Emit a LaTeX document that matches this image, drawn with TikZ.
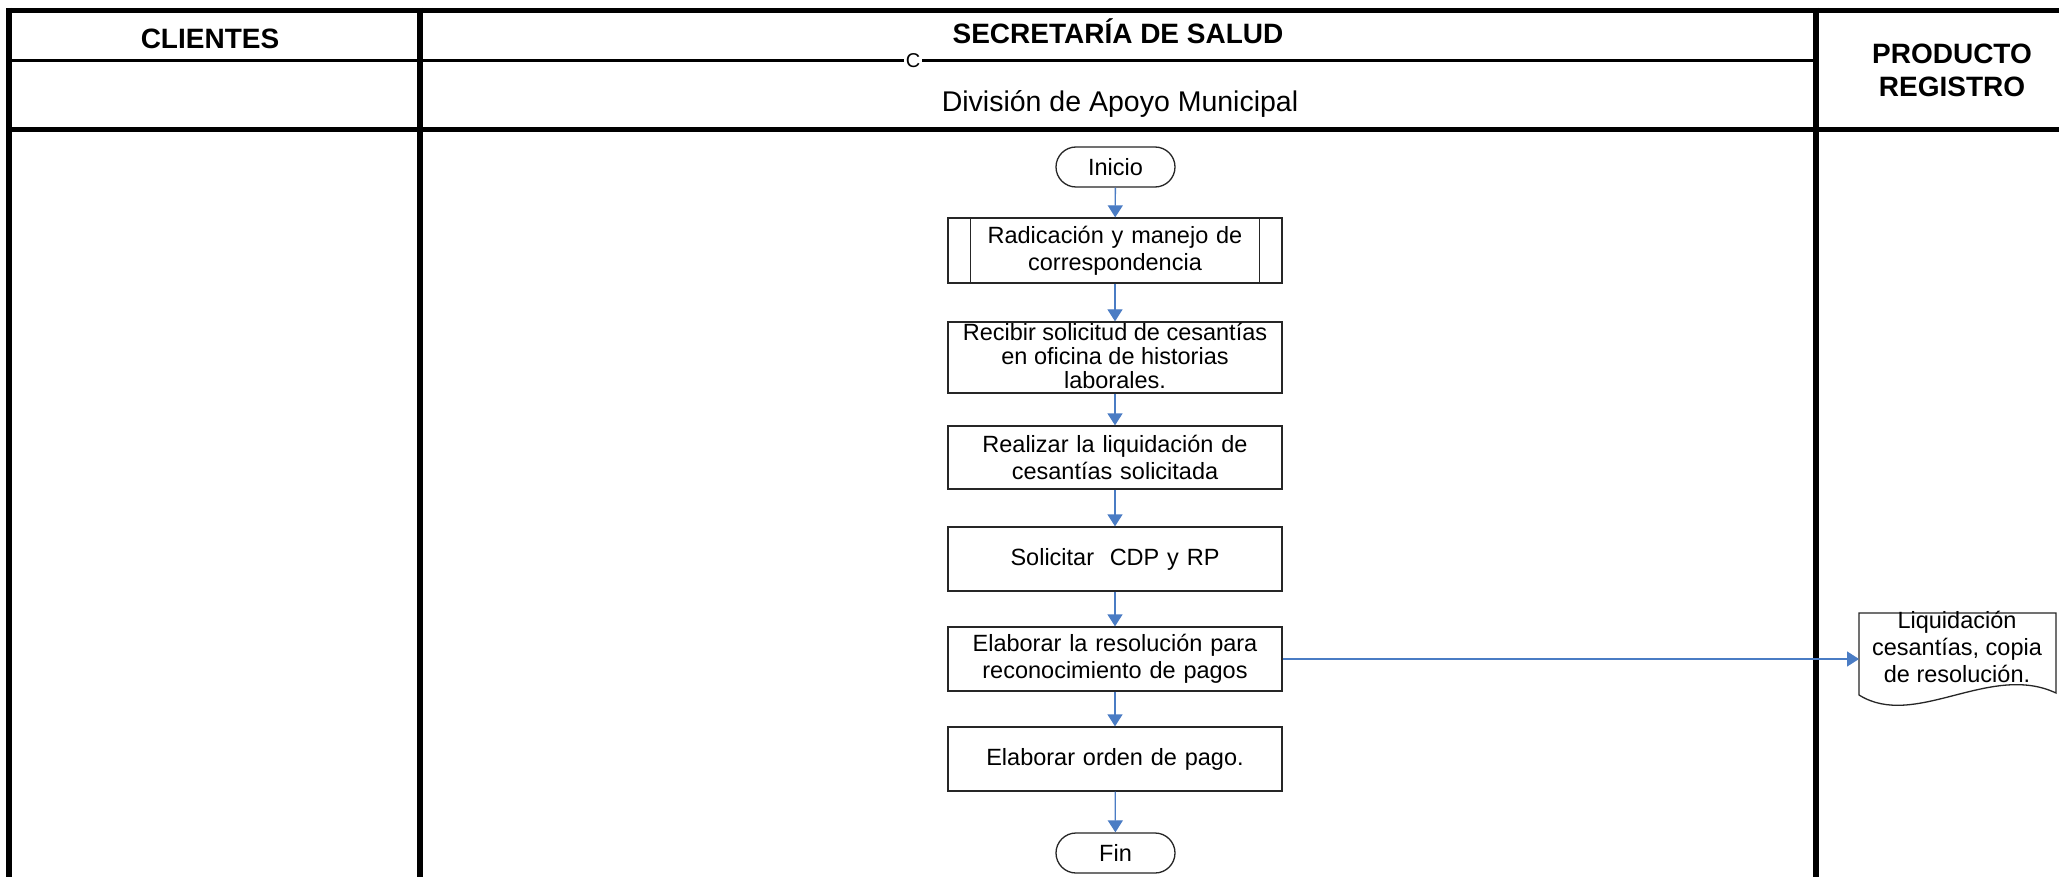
\documentclass[tikz,border=0pt]{standalone}
\usepackage{fontspec}
\setmainfont{Liberation Sans}
\usetikzlibrary{arrows.meta}
\definecolor{flowblue}{RGB}{74,124,196}
\newcommand\myBodyFont{\fontsize{23.5}{27}\selectfont}
\newcommand\myTightFont{\fontsize{23.5}{24}\selectfont}
\newcommand\myHeadFont{\fontsize{28}{33}\selectfont\bfseries}
\newcommand\mySubFont{\fontsize{28.5}{33}\selectfont}
\begin{document}
\begin{tikzpicture}[x=1pt,y=-1pt,
  laneline/.style={draw=black, line width=#1},
  procbox/.style={draw=black!85, line width=1.3pt, minimum width=334pt, text width=326pt,
                  align=center, inner sep=0pt, font=\myBodyFont},
  termbox/.style={draw=black!85, line width=1.3pt, rounded corners=20pt, minimum width=119pt,
                  minimum height=40pt, inner sep=0pt, font=\myBodyFont},
  flow/.style={draw=flowblue, line width=1.3pt, -{Triangle[length=12pt,width=15pt]}},
  hdr/.style={font=\myHeadFont, inner sep=0pt, anchor=base},
  sub/.style={font=\mySubFont, inner sep=0pt, anchor=base}]
\useasboundingbox (0,0) rectangle (2059,877);
\fill[white] (0,0) rectangle (2059,877);

% frame
\draw[laneline=5pt] (6,10.5) -- (2059,10.5);
\draw[laneline=3pt] (9,60.5) -- (1816,60.5);
\draw[laneline=5pt] (6,129.5) -- (2059,129.5);
\draw[laneline=6pt] (9,8) -- (9,877);
\draw[laneline=6pt] (420,8) -- (420,877);
\draw[laneline=6pt] (1816,8) -- (1816,877);

\node[fill=white, inner sep=1.5pt, font=\fontsize{20}{22}\selectfont] (cmark) at (913,60.5) {C};

% headers
\node[hdr] (cli) at (210,49) {CLIENTES};
\node[hdr] (sec) at (1118,44) {SECRETARÍA DE SALUD};
\node[sub] (div) at (1120,112) {División de Apoyo Municipal};
\node[hdr] (prod) at (1952,64) {PRODUCTO};
\node[hdr] (reg) at (1952,97) {REGISTRO};

% flow nodes
\node[termbox] (ini) at (1115.5,167) {Inicio};
\node[procbox, minimum height=65pt] (rad) at (1115,250.5) {Radicación y manejo de\\correspondencia};
\draw[draw=black!85, line width=1.3pt] ([xshift=23pt]rad.north west) -- ([xshift=23pt]rad.south west);
\draw[draw=black!85, line width=1.3pt] ([xshift=-23pt]rad.north east) -- ([xshift=-23pt]rad.south east);
\node[procbox, minimum height=71pt] (rec) at (1115,357.5) {};
\node[font=\myTightFont, align=center, inner sep=0pt] (rectxt) at (1115,355.5) {Recibir solicitud de cesantías\\en oficina de historias\\laborales.};
\node[procbox, minimum height=63pt] (rea) at (1115,457.5) {Realizar la liquidación de\\cesantías solicitada};
\node[procbox, minimum height=64pt] (sol) at (1115,559) {Solicitar~ CDP y RP};
\node[procbox, minimum height=64pt] (res) at (1115,659) {Elaborar la resolución para\\reconocimiento de pagos};
\node[procbox, minimum height=64pt] (ord) at (1115,759) {Elaborar orden de pago.};
\node[termbox] (fin) at (1115.5,853) {Fin};

% document shape
\draw[draw=black!85, line width=1.3pt, fill=white]
  (1859,613) -- (2056,613) -- (2056,693)
  .. controls (1990,662) and (1915,730) .. (1859,695) -- cycle;
\node[font=\myBodyFont, align=center, inner sep=0pt] (doc) at (1957,647) {Liquidación\\cesantías, copia\\de resolución.};
\coordinate (docin) at (1859,659);

% connectors
\draw[flow] (ini) -- (rad);
\draw[flow] (rad) -- (rec);
\draw[flow] (rec) -- (rea);
\draw[flow] (rea) -- (sol);
\draw[flow] (sol) -- (res);
\draw[flow] (res) -- (ord);
\draw[flow] (ord) -- (fin);
\draw[flow] (res.east) -- (docin);
\end{tikzpicture}
\end{document}
